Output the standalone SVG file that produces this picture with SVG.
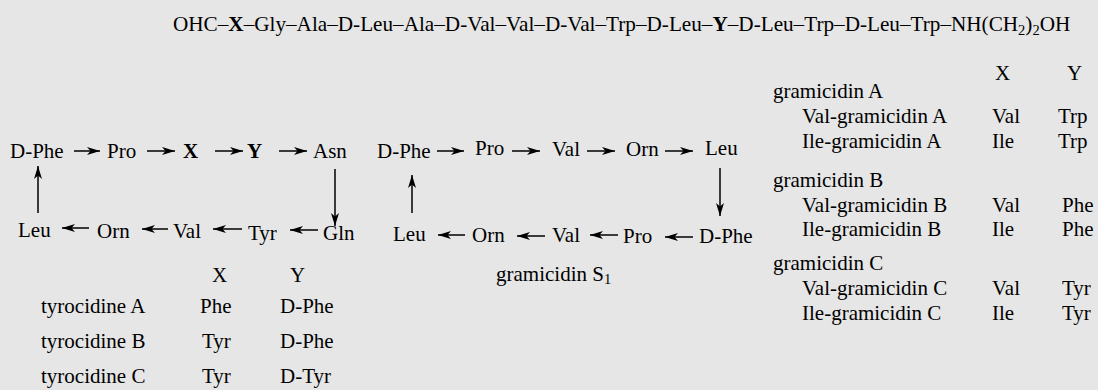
<svg xmlns="http://www.w3.org/2000/svg" width="1098" height="390" viewBox="0 0 1098 390">
<style>
text{font-family:"Liberation Serif","Times New Roman","DejaVu Serif",serif;font-size:21px;fill:#000}
.b{font-weight:bold}
.s{font-size:14.5px}
.c{stroke:#000;stroke-width:1.5;fill:none;marker-end:url(#ah)}
</style>
<defs>
<marker id="ah" markerUnits="userSpaceOnUse" markerWidth="14" markerHeight="10" refX="13" refY="4.5" orient="auto">
<path d="M0,0.5 L13,4.5 L0,8.5 L3.5,4.5 z" fill="#000"/>
</marker>
</defs>
<rect width="1098" height="390" fill="#e6e6e6"/>
<g id="formula"><text x="173" y="31" style="font-size:21.2px">OHC–<tspan class="b">X</tspan>–Gly–Ala–D-Leu–Ala–D-Val–Val–D-Val–Trp–D-Leu–<tspan class="b">Y</tspan>–D-Leu–Trp–D-Leu–Trp–NH(CH<tspan class="s" dy="4">2</tspan><tspan dy="-4">)</tspan><tspan class="s" dy="4">2</tspan><tspan dy="-4">OH</tspan></text></g>
<g id="tyrocidine-ring">
<g id="t-dphe"><text x="10" y="158">D-Phe</text></g>
<g id="t-pro"><text x="107" y="158">Pro</text></g>
<g id="t-x"><text x="183" y="158" class="b">X</text></g>
<g id="t-y"><text x="247" y="158" class="b">Y</text></g>
<g id="t-asn"><text x="313" y="158">Asn</text></g>
<g id="t-gln"><text x="323" y="240">Gln</text></g>
<g id="t-tyr"><text x="248" y="240">Tyr</text></g>
<g id="t-val"><text x="173" y="238">Val</text></g>
<g id="t-orn"><text x="97" y="238">Orn</text></g>
<g id="t-leu"><text x="18" y="237">Leu</text></g>
</g>
<g id="gramicidinS-ring">
<g id="g-dphe1"><text x="377" y="158">D-Phe</text></g>
<g id="g-pro1"><text x="475" y="155">Pro</text></g>
<g id="g-val1"><text x="552" y="156">Val</text></g>
<g id="g-orn1"><text x="626" y="156">Orn</text></g>
<g id="g-leu1"><text x="705" y="155">Leu</text></g>
<g id="g-dphe2"><text x="699" y="243">D-Phe</text></g>
<g id="g-pro2"><text x="623" y="243">Pro</text></g>
<g id="g-val2"><text x="552" y="242">Val</text></g>
<g id="g-orn2"><text x="472" y="242">Orn</text></g>
<g id="g-leu2"><text x="393" y="241">Leu</text></g>
<g id="g-label"><text x="496" y="281">gramicidin S<tspan class="s" dy="3">1</tspan></text></g>
</g>
<g id="connectors">
<line class="c" x1="74" y1="151" x2="100" y2="151"/>
<line class="c" x1="147" y1="151" x2="175" y2="151"/>
<line class="c" x1="215" y1="151" x2="243" y2="151"/>
<line class="c" x1="279" y1="151" x2="307" y2="151"/>
<line class="c" x1="335" y1="169" x2="335" y2="226"/>
<line class="c" x1="318" y1="230" x2="290" y2="230"/>
<line class="c" x1="242" y1="229" x2="213" y2="229"/>
<line class="c" x1="168" y1="229" x2="142" y2="229"/>
<line class="c" x1="89" y1="228" x2="62" y2="228"/>
<line class="c" x1="38" y1="213" x2="38" y2="166"/>
<line class="c" x1="437" y1="151" x2="464" y2="151"/>
<line class="c" x1="512" y1="151" x2="540" y2="151"/>
<line class="c" x1="587" y1="151" x2="615" y2="151"/>
<line class="c" x1="665" y1="151" x2="693" y2="151"/>
<line class="c" x1="720" y1="168" x2="720" y2="216"/>
<line class="c" x1="693" y1="237" x2="665" y2="237"/>
<line class="c" x1="618" y1="235" x2="590" y2="235"/>
<line class="c" x1="545" y1="236" x2="517" y2="236"/>
<line class="c" x1="465" y1="235" x2="438" y2="235"/>
<line class="c" x1="412" y1="213" x2="412" y2="175"/>
</g>
<g id="tyrocidine-table">
<text x="212" y="282">X</text><text x="290" y="282">Y</text>
<text x="41" y="313">tyrocidine A</text><text x="200" y="313">Phe</text><text x="280" y="313">D-Phe</text>
<text x="41" y="348">tyrocidine B</text><text x="202" y="348">Tyr</text><text x="280" y="348">D-Phe</text>
<text x="41" y="383">tyrocidine C</text><text x="202" y="383">Tyr</text><text x="280" y="383">D-Tyr</text>
</g>
<g id="gramicidin-table">
<text x="995" y="80">X</text><text x="1067" y="80">Y</text>
<text x="773" y="98">gramicidin A</text>
<text x="802" y="123">Val-gramicidin A</text><text x="992" y="123">Val</text><text x="1058" y="123">Trp</text>
<text x="802" y="148">Ile-gramicidin A</text><text x="992" y="148">Ile</text><text x="1058" y="148">Trp</text>
<text x="773" y="187">gramicidin B</text>
<text x="802" y="212">Val-gramicidin B</text><text x="992" y="212">Val</text><text x="1062" y="212">Phe</text>
<text x="802" y="236">Ile-gramicidin B</text><text x="992" y="236">Ile</text><text x="1062" y="236">Phe</text>
<text x="773" y="270">gramicidin C</text>
<text x="802" y="295">Val-gramicidin C</text><text x="992" y="295">Val</text><text x="1062" y="295">Tyr</text>
<text x="802" y="320">Ile-gramicidin C</text><text x="992" y="320">Ile</text><text x="1062" y="320">Tyr</text>
</g>
</svg>
